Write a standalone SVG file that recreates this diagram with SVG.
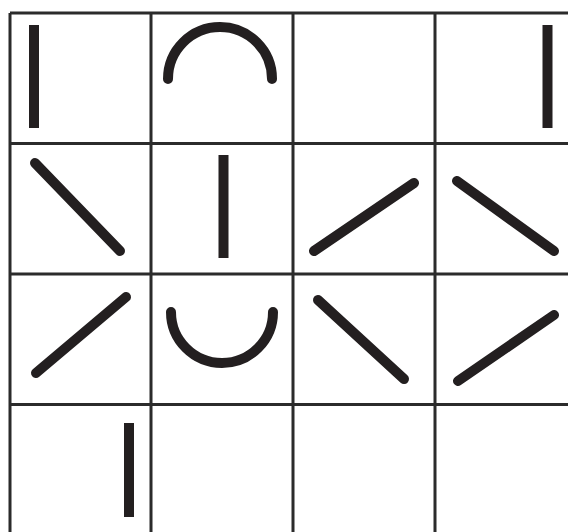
<svg xmlns="http://www.w3.org/2000/svg" width="568" height="532" viewBox="0 0 568 532">
<style>
.grid{stroke:#2b2b2b;stroke-width:3;fill:none}
.bar{stroke:#231f20;stroke-width:10;fill:none;stroke-linecap:butt}
.rnd{stroke:#231f20;stroke-width:10;fill:none;stroke-linecap:round}
</style>
<rect width="568" height="532" fill="#ffffff"/>
<g id="grid" class="grid">
<path d="M10,13V532M151,13V532M293,13V532M435,13V532"/>
<path d="M10,13H568M10,143.5H568M10,274H568M10,404.5H568"/>
</g>
<g id="c00"><path class="bar" d="M34,25V128"/></g>
<g id="c01"><path class="rnd" d="M168,79A52,52 0 0 1 272,79"/></g>
<g id="c03"><path class="bar" d="M547.5,25V128"/></g>
<g id="c10"><path class="rnd" d="M35,163L120,251"/></g>
<g id="c11"><path class="bar" d="M223.5,155V258"/></g>
<g id="c12"><path class="rnd" d="M314,251L414,183"/></g>
<g id="c13"><path class="rnd" d="M457,181L554,251"/></g>
<g id="c20"><path class="rnd" d="M36,373L126,297"/></g>
<g id="c21"><path class="rnd" d="M171,312A51,51 0 0 0 273,312"/></g>
<g id="c22"><path class="rnd" d="M318,300L404,379"/></g>
<g id="c23"><path class="rnd" d="M458,381L554,315"/></g>
<g id="c30"><path class="bar" d="M129,423V517"/></g>
</svg>
